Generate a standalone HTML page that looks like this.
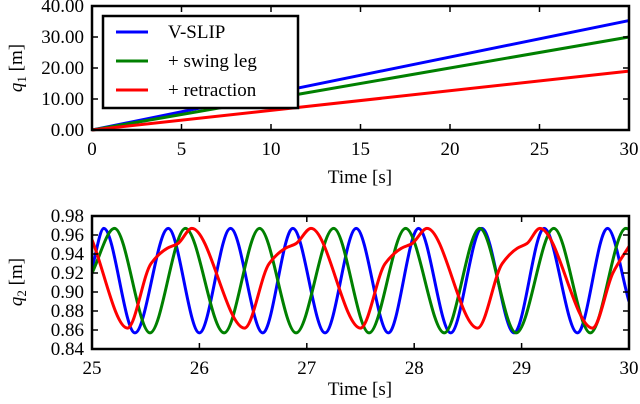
<!DOCTYPE html>
<html><head><meta charset="utf-8"><style>
body{margin:0;background:#fff}
svg{display:block;font-family:"Liberation Serif",serif}
</style></head><body>
<svg id="c" width="640" height="404"></svg>
<script>
const topTimes=[0,30];
const topBlue=[0,35.3];
const topGreen=[0,30.0];
const topRed=[0,19.0];
const topYTicks=[0,10,20,30,40];
const topYLabels=["0.00","10.00","20.00","30.00","40.00"];
const topXTicks=[0,5,10,15,20,25,30];
const botYTicks=[0.84,0.86,0.88,0.90,0.92,0.94,0.96,0.98];
const botXTicks=[25,26,27,28,29,30];
const blueT=[25,25.11,25.40,25.71,26.0,26.29,26.59,26.87,27.17,27.46,27.76,28.04,28.34,28.63,28.93,29.21,29.52,29.80,30];
const blueV=[0.925,0.967,0.857,0.967,0.857,0.967,0.857,0.967,0.857,0.967,0.857,0.967,0.857,0.967,0.857,0.967,0.857,0.967,0.89];
const greenT=[25,25.21,25.54,25.87,26.23,26.56,26.9,27.25,27.58,27.92,28.28,28.61,28.95,29.30,29.64,29.97,30];
const greenV=[0.92,0.967,0.857,0.967,0.857,0.967,0.857,0.967,0.857,0.967,0.857,0.967,0.857,0.967,0.857,0.967,0.966];
const redT=[25,25.33,25.55,25.7,25.8,25.93,26.42,26.65,26.8,26.9,27.04,27.5,27.73,27.88,27.98,28.12,28.59,28.82,28.96,29.05,29.17,29.66,29.85,30];
const redV=[0.955,0.862,0.93,0.946,0.951,0.967,0.862,0.93,0.946,0.951,0.967,0.862,0.93,0.946,0.951,0.967,0.862,0.93,0.946,0.951,0.967,0.862,0.92,0.948];
const NS="http://www.w3.org/2000/svg",svg=document.getElementById('c');
function mk(t,a,p){const e=document.createElementNS(NS,t);for(const k in a)e.setAttribute(k,a[k]);(p||svg).appendChild(e);return e;}
const L=92,R=629,FS=19;
const T1=6,B1=130,T2=216,B2=349;
const x1=v=>L+(v-0)/30*(R-L), y1=v=>B1-v/40*(B1-T1);
const x2=v=>L+(v-25)/5*(R-L), y2=v=>B2-(v-0.84)/0.14*(B2-T2);
function monotone(xs,ys){const n=xs.length,d=[],m=[];
for(let i=0;i<n-1;i++)d.push((ys[i+1]-ys[i])/(xs[i+1]-xs[i]));
m[0]=d[0];m[n-1]=d[n-2];
for(let i=1;i<n-1;i++){if(d[i-1]*d[i]<=0)m[i]=0;else{const h0=xs[i]-xs[i-1],h1=xs[i+1]-xs[i];m[i]=3*(h0+h1)/((2*h1+h0)/d[i-1]+(h1+2*h0)/d[i]);}}
let s="M"+xs[0]+","+ys[0];
for(let i=0;i<n-1;i++){const h=(xs[i+1]-xs[i])/3;s+=`C${xs[i]+h},${ys[i]+m[i]*h} ${xs[i+1]-h},${ys[i+1]-m[i+1]*h} ${xs[i+1]},${ys[i+1]}`;}
return s;}
const clip=mk('clipPath',{id:'cl2'});mk('rect',{x:L,y:T2,width:R-L,height:B2-T2},clip);
const g1=mk('g',{});
[[topBlue,'#0000ff','line-v-slip'],[topGreen,'#008000','line-swing-leg'],[topRed,'#ff0000','line-retraction']].forEach(([v,c,n])=>{
const e=mk('path',{d:'M'+x1(topTimes[0])+','+y1(v[0])+'L'+x1(topTimes[1])+','+y1(v[1]),stroke:c,'stroke-width':3,fill:'none'},g1);
});
topYTicks.forEach((t,i)=>{const y=y1(t);mk('line',{x1:L,x2:L+6,y1:y,y2:y,stroke:'#000','stroke-width':1.5},g1);mk('line',{x1:R,x2:R-6,y1:y,y2:y,stroke:'#000','stroke-width':1.5},g1);
const e=mk('text',{x:L-8,y:y+6,'text-anchor':'end','font-size':FS},g1);e.textContent=topYLabels[i];});
topXTicks.forEach(t=>{const x=x1(t);mk('line',{x1:x,x2:x,y1:B1,y2:B1-6,stroke:'#000','stroke-width':1.5},g1);mk('line',{x1:x,x2:x,y1:T1,y2:T1+6,stroke:'#000','stroke-width':1.5},g1);
const e=mk('text',{x:x,y:B1+25,'text-anchor':'middle','font-size':FS},g1);e.textContent=t;});
mk('rect',{x:L,y:T1,width:R-L,height:B1-T1,fill:'none',stroke:'#000','stroke-width':2.5},g1);
let e=mk('text',{x:360,y:183,'text-anchor':'middle','font-size':FS},g1);e.textContent='Time [s]';
e=mk('text',{x:0,y:0,'text-anchor':'middle','font-size':FS,transform:'translate(22,68) rotate(-90)'},g1);e.innerHTML='<tspan font-style="italic">q</tspan><tspan font-size="13" dy="4">1</tspan><tspan dy="-4"> [m]</tspan>';
const lg=mk('g',{});
mk('rect',{x:103,y:16,width:195,height:92,fill:'#fff',stroke:'#000','stroke-width':2.5},lg);
[['V-SLIP','#0000ff'],['+ swing leg','#008000'],['+ retraction','#ff0000']].forEach(([t,c],i)=>{const y=32+i*29;
mk('line',{x1:116,x2:148,y1:y,y2:y,stroke:c,'stroke-width':3},lg);
const tx=mk('text',{x:168,y:y+6,'font-size':FS},lg);tx.textContent=t;});
const g2=mk('g',{});
const gc=mk('g',{'clip-path':'url(#cl2)'},g2);
[[blueT,blueV,'#0000ff','q2-v-slip'],[greenT,greenV,'#008000','q2-swing-leg'],[redT,redV,'#ff0000','q2-retraction']].forEach(([ts,vs,c,n])=>{
const p=mk('path',{d:monotone(ts.map(x2),vs.map(y2)),stroke:c,'stroke-width':3,fill:'none'},gc);});
botYTicks.forEach(t=>{const y=y2(t);mk('line',{x1:L,x2:L+6,y1:y,y2:y,stroke:'#000','stroke-width':1.5},g2);mk('line',{x1:R,x2:R-6,y1:y,y2:y,stroke:'#000','stroke-width':1.5},g2);
const e=mk('text',{x:L-8,y:y+6,'text-anchor':'end','font-size':FS},g2);e.textContent=t.toFixed(2);});
botXTicks.forEach(t=>{const x=x2(t);mk('line',{x1:x,x2:x,y1:B2,y2:B2-6,stroke:'#000','stroke-width':1.5},g2);mk('line',{x1:x,x2:x,y1:T2,y2:T2+6,stroke:'#000','stroke-width':1.5},g2);
const e=mk('text',{x:x,y:B2+25,'text-anchor':'middle','font-size':FS},g2);e.textContent=t;});
mk('rect',{x:L,y:T2,width:R-L,height:B2-T2,fill:'none',stroke:'#000','stroke-width':2.5},g2);
e=mk('text',{x:360,y:395,'text-anchor':'middle','font-size':FS},g2);e.textContent='Time [s]';
e=mk('text',{x:0,y:0,'text-anchor':'middle','font-size':FS,transform:'translate(22,282) rotate(-90)'},g2);e.innerHTML='<tspan font-style="italic">q</tspan><tspan font-size="13" dy="4">2</tspan><tspan dy="-4"> [m]</tspan>';
</script>
</body></html>
